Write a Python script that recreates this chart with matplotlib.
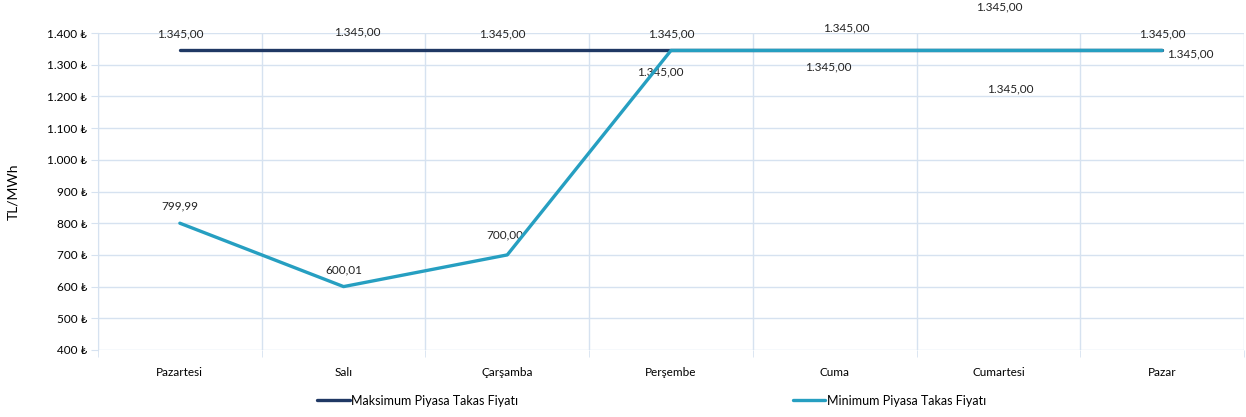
import matplotlib
matplotlib.use('Agg')
import matplotlib.pyplot as plt
from matplotlib.ticker import FuncFormatter, MultipleLocator

# haftalık piyasa takas fiyatları
gunler = ['Pazartesi', 'Salı', 'Çarşamba', 'Perşembe', 'Cuma', 'Cumartesi', 'Pazar']
maks_ptf = [1345.00, 1345.00, 1345.00, 1345.00, 1345.00, 1345.00, 1345.00]
min_ptf = [799.99, 600.01, 700.00, 1345.00, 1345.00, 1345.00, 1345.00]

# etiketlerin kaydırma miktarları (piksel)
maks_ofset = [(0, 17), (14, 19), (-5, 17), (0, 17), (12, 23), (1, 44), (0, 17)]
min_ofset = [(0, 17), (0, 17), (-2, 20), (-11, -21), (-6, -16), (12, -38), (28, -3)]

def tr_sayi(v):
    s = f'{v:,.2f}'
    return s.replace(',', 'X').replace('.', ',').replace('X', '.')

plt.rcParams['font.family'] = ['Lato', 'DejaVu Sans']
plt.rcParams['font.size'] = 8.5

koyu = '#1f3864'
acik = '#269fc1'
grid_renk = '#d6e2f0'

fig = plt.figure(figsize=(12.46, 4.17), dpi=100)
ax = fig.add_axes([98 / 1246, 1 - 350 / 417, (1244 - 98) / 1246, (350 - 33) / 417])

x = list(range(len(gunler)))
ax.plot(x, maks_ptf, color=koyu, lw=2.4, solid_capstyle='round', label='Maksimum Piyasa Takas Fiyatı', zorder=3)
ax.plot(x, min_ptf, color=acik, lw=2.4, solid_capstyle='round', label='Minimum Piyasa Takas Fiyatı', zorder=4)

for i in x:
    ax.annotate(tr_sayi(maks_ptf[i]), (i, maks_ptf[i]), xytext=maks_ofset[i],
                textcoords='offset pixels', ha='center', va='center', fontsize=8.5, color='#222222')
    ax.annotate(tr_sayi(min_ptf[i]), (i, min_ptf[i]), xytext=min_ofset[i],
                textcoords='offset pixels', ha='center', va='center', fontsize=8.5, color='#222222')

ax.set_xlim(-0.5, len(gunler) - 0.5)
ax.set_ylim(400, 1400)
ax.yaxis.set_major_locator(MultipleLocator(100))
ax.yaxis.set_major_formatter(FuncFormatter(lambda v, p: f'{int(v):,}'.replace(',', '.') + ' ₺'))

ax.set_xticks(x)
ax.set_xticklabels(gunler)
ax.set_xticks([i - 0.5 for i in range(len(gunler) + 1)], minor=True)
ax.tick_params(axis='x', which='major', length=0, pad=12)
ax.tick_params(axis='x', which='minor', length=5, color=grid_renk)
ax.tick_params(axis='y', length=5, color=grid_renk, pad=3)
ax.grid(axis='y', color=grid_renk, lw=1)
ax.grid(axis='x', which='minor', color=grid_renk, lw=1)
for s in ax.spines.values():
    s.set_visible(False)
ax.spines['left'].set_visible(True)
ax.spines['left'].set_color(grid_renk)

ax.set_ylabel('TL/MWh', fontsize=10)
ax.yaxis.set_label_coords(-0.069, 0.5)

ax.legend(loc='center', bbox_to_anchor=(0.483, -0.16), ncol=2, frameon=False,
          handlelength=2.6, handletextpad=0.1, columnspacing=22, fontsize=9)

plt.savefig('out.png', dpi=100)
